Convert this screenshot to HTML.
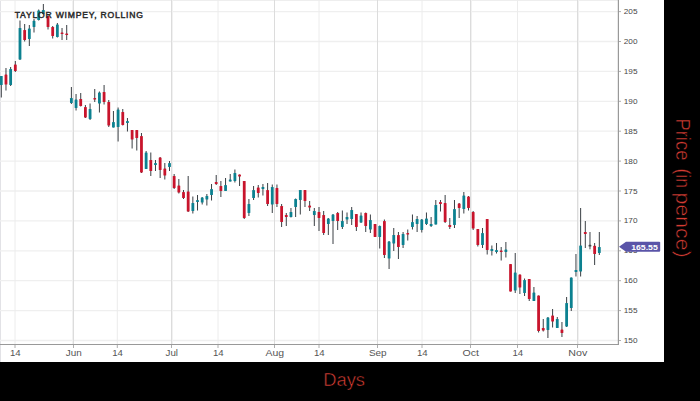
<!DOCTYPE html>
<html><head><meta charset="utf-8"><style>
html,body{margin:0;padding:0;background:#000;}
body{width:700px;height:401px;overflow:hidden;position:relative;}
svg{position:absolute;left:0;top:0;display:block;}
.yl{font-family:"Liberation Sans",sans-serif;font-size:7.5px;fill:#484848;}
.xl{font-family:"Liberation Sans",sans-serif;font-size:8.6px;fill:#555;}
.ttl{font-family:"Liberation Sans",sans-serif;font-size:8.6px;font-weight:normal;fill:#2a2a2a;stroke:#2a2a2a;stroke-width:0.45px;}
.plab{font-family:"Liberation Sans",sans-serif;font-size:6.8px;font-weight:bold;fill:#fff;}
.axt{font-family:"Liberation Sans",sans-serif;fill:#d63c33;stroke:#000;stroke-width:0.5px;}
</style></head><body>
<svg width="700" height="401" viewBox="0 0 700 401">
<rect x="0" y="0" width="700" height="401" fill="#000"/>
<rect x="0" y="0" width="664" height="362" fill="#fff"/>
<line x1="0.5" y1="0" x2="0.5" y2="362" stroke="#e2e2e6" stroke-width="1"/>
<line x1="0" y1="0.5" x2="618" y2="0.5" stroke="#eeeeee" stroke-width="1"/>
<line x1="0" y1="340.50" x2="618" y2="340.50" stroke="#efefef" stroke-width="1.3"/><line x1="0" y1="310.60" x2="618" y2="310.60" stroke="#efefef" stroke-width="1.3"/><line x1="0" y1="280.70" x2="618" y2="280.70" stroke="#efefef" stroke-width="1.3"/><line x1="0" y1="250.80" x2="618" y2="250.80" stroke="#efefef" stroke-width="1.3"/><line x1="0" y1="220.90" x2="618" y2="220.90" stroke="#efefef" stroke-width="1.3"/><line x1="0" y1="191.00" x2="618" y2="191.00" stroke="#efefef" stroke-width="1.3"/><line x1="0" y1="161.10" x2="618" y2="161.10" stroke="#efefef" stroke-width="1.3"/><line x1="0" y1="131.20" x2="618" y2="131.20" stroke="#efefef" stroke-width="1.3"/><line x1="0" y1="101.30" x2="618" y2="101.30" stroke="#efefef" stroke-width="1.3"/><line x1="0" y1="71.40" x2="618" y2="71.40" stroke="#efefef" stroke-width="1.3"/><line x1="0" y1="41.50" x2="618" y2="41.50" stroke="#efefef" stroke-width="1.3"/><line x1="0" y1="11.60" x2="618" y2="11.60" stroke="#efefef" stroke-width="1.3"/>
<line x1="15" y1="0" x2="15" y2="344" stroke="#ececec" stroke-width="1"/><line x1="73.5" y1="0" x2="73.5" y2="344" stroke="#dcdcdc" stroke-width="1"/><line x1="72.5" y1="0" x2="72.5" y2="344" stroke="#f1f1f1" stroke-width="1"/><line x1="117.3" y1="0" x2="117.3" y2="344" stroke="#ececec" stroke-width="1"/><line x1="171.5" y1="0" x2="171.5" y2="344" stroke="#dcdcdc" stroke-width="1"/><line x1="172.5" y1="0" x2="172.5" y2="344" stroke="#f1f1f1" stroke-width="1"/><line x1="218" y1="0" x2="218" y2="344" stroke="#ececec" stroke-width="1"/><line x1="274.5" y1="0" x2="274.5" y2="344" stroke="#dcdcdc" stroke-width="1"/><line x1="319" y1="0" x2="319" y2="344" stroke="#ececec" stroke-width="1"/><line x1="377.5" y1="0" x2="377.5" y2="344" stroke="#dcdcdc" stroke-width="1"/><line x1="422" y1="0" x2="422" y2="344" stroke="#ececec" stroke-width="1"/><line x1="470.5" y1="0" x2="470.5" y2="344" stroke="#dcdcdc" stroke-width="1"/><line x1="471.5" y1="0" x2="471.5" y2="344" stroke="#f1f1f1" stroke-width="1"/><line x1="517.5" y1="0" x2="517.5" y2="344" stroke="#ececec" stroke-width="1"/><line x1="577.5" y1="0" x2="577.5" y2="344" stroke="#dcdcdc" stroke-width="1"/><line x1="578.5" y1="0" x2="578.5" y2="344" stroke="#f1f1f1" stroke-width="1"/>
<line x1="361" y1="0" x2="0" y2="0" stroke="none"/><line x1="0" y1="344.5" x2="619" y2="344.5" stroke="#999" stroke-width="1.2"/>
<line x1="618.4" y1="0" x2="618.4" y2="345" stroke="#999" stroke-width="1.2"/>
<line x1="15" y1="344.5" x2="15" y2="348" stroke="#999" stroke-width="0.8"/><line x1="73.5" y1="344.5" x2="73.5" y2="348" stroke="#999" stroke-width="0.8"/><line x1="117.3" y1="344.5" x2="117.3" y2="348" stroke="#999" stroke-width="0.8"/><line x1="171.5" y1="344.5" x2="171.5" y2="348" stroke="#999" stroke-width="0.8"/><line x1="218" y1="344.5" x2="218" y2="348" stroke="#999" stroke-width="0.8"/><line x1="274.5" y1="344.5" x2="274.5" y2="348" stroke="#999" stroke-width="0.8"/><line x1="319" y1="344.5" x2="319" y2="348" stroke="#999" stroke-width="0.8"/><line x1="377.5" y1="344.5" x2="377.5" y2="348" stroke="#999" stroke-width="0.8"/><line x1="422" y1="344.5" x2="422" y2="348" stroke="#999" stroke-width="0.8"/><line x1="470.5" y1="344.5" x2="470.5" y2="348" stroke="#999" stroke-width="0.8"/><line x1="517.5" y1="344.5" x2="517.5" y2="348" stroke="#999" stroke-width="0.8"/><line x1="577.5" y1="344.5" x2="577.5" y2="348" stroke="#999" stroke-width="0.8"/>
<line x1="618.5" y1="340.50" x2="621" y2="340.50" stroke="#999" stroke-width="0.8"/><line x1="618.5" y1="310.60" x2="621" y2="310.60" stroke="#999" stroke-width="0.8"/><line x1="618.5" y1="280.70" x2="621" y2="280.70" stroke="#999" stroke-width="0.8"/><line x1="618.5" y1="250.80" x2="621" y2="250.80" stroke="#999" stroke-width="0.8"/><line x1="618.5" y1="220.90" x2="621" y2="220.90" stroke="#999" stroke-width="0.8"/><line x1="618.5" y1="191.00" x2="621" y2="191.00" stroke="#999" stroke-width="0.8"/><line x1="618.5" y1="161.10" x2="621" y2="161.10" stroke="#999" stroke-width="0.8"/><line x1="618.5" y1="131.20" x2="621" y2="131.20" stroke="#999" stroke-width="0.8"/><line x1="618.5" y1="101.30" x2="621" y2="101.30" stroke="#999" stroke-width="0.8"/><line x1="618.5" y1="71.40" x2="621" y2="71.40" stroke="#999" stroke-width="0.8"/><line x1="618.5" y1="41.50" x2="621" y2="41.50" stroke="#999" stroke-width="0.8"/><line x1="618.5" y1="11.60" x2="621" y2="11.60" stroke="#999" stroke-width="0.8"/>
<line x1="1.30" y1="76.0" x2="1.30" y2="97.5" stroke="#3a3f44" stroke-width="1"/><rect x="-0.10" y="76.0" width="2.8" height="9.00" rx="0.6" fill="#0c8190"/><line x1="5.97" y1="68.0" x2="5.97" y2="90.5" stroke="#3a3f44" stroke-width="1"/><rect x="4.57" y="74.5" width="2.8" height="10.00" rx="0.6" fill="#c8142c"/><line x1="10.64" y1="67.0" x2="10.64" y2="86.0" stroke="#3a3f44" stroke-width="1"/><rect x="9.24" y="69.0" width="2.8" height="16.00" rx="0.6" fill="#0c8190"/><line x1="15.32" y1="61.0" x2="15.32" y2="72.0" stroke="#3a3f44" stroke-width="1"/><rect x="13.92" y="64.5" width="2.8" height="6.50" rx="0.6" fill="#c8142c"/><line x1="19.99" y1="20.5" x2="19.99" y2="60.0" stroke="#3a3f44" stroke-width="1"/><rect x="18.59" y="28.0" width="2.8" height="31.50" rx="0.6" fill="#0c8190"/><line x1="24.66" y1="24.0" x2="24.66" y2="41.5" stroke="#3a3f44" stroke-width="1"/><rect x="23.26" y="30.0" width="2.8" height="10.00" rx="0.6" fill="#c8142c"/><line x1="29.33" y1="25.0" x2="29.33" y2="46.0" stroke="#3a3f44" stroke-width="1"/><rect x="27.93" y="28.5" width="2.8" height="10.50" rx="0.6" fill="#0c8190"/><line x1="34.00" y1="19.0" x2="34.00" y2="32.5" stroke="#3a3f44" stroke-width="1"/><rect x="32.60" y="20.8" width="2.8" height="6.20" rx="0.6" fill="#0c8190"/><line x1="38.68" y1="9.5" x2="38.68" y2="20.5" stroke="#3a3f44" stroke-width="1"/><rect x="37.28" y="10.5" width="2.8" height="9.50" rx="0.6" fill="#0c8190"/><line x1="43.35" y1="4.0" x2="43.35" y2="14.5" stroke="#3a3f44" stroke-width="1"/><rect x="41.95" y="10.0" width="2.8" height="4.00" rx="0.6" fill="#0c8190"/><line x1="48.02" y1="15.0" x2="48.02" y2="29.5" stroke="#3a3f44" stroke-width="1"/><rect x="46.62" y="16.0" width="2.8" height="11.00" rx="0.6" fill="#c8142c"/><line x1="52.69" y1="26.0" x2="52.69" y2="38.5" stroke="#3a3f44" stroke-width="1"/><rect x="51.29" y="27.0" width="2.8" height="9.00" rx="0.6" fill="#c8142c"/><line x1="57.36" y1="23.0" x2="57.36" y2="37.5" stroke="#3a3f44" stroke-width="1"/><rect x="55.96" y="24.5" width="2.8" height="12.50" rx="0.6" fill="#0c8190"/><line x1="62.04" y1="28.0" x2="62.04" y2="40.0" stroke="#3a3f44" stroke-width="1"/><rect x="60.64" y="32.5" width="2.8" height="1.50" rx="0.6" fill="#c8142c"/><line x1="66.71" y1="25.0" x2="66.71" y2="40.0" stroke="#3a3f44" stroke-width="1"/><rect x="65.31" y="33.5" width="2.8" height="1.50" rx="0.6" fill="#c8142c"/><line x1="71.38" y1="87.0" x2="71.38" y2="104.0" stroke="#3a3f44" stroke-width="1"/><rect x="69.98" y="98.0" width="2.8" height="5.00" rx="0.6" fill="#0c8190"/><line x1="76.05" y1="94.0" x2="76.05" y2="110.5" stroke="#3a3f44" stroke-width="1"/><rect x="74.65" y="99.5" width="2.8" height="8.50" rx="0.6" fill="#0c8190"/><line x1="80.72" y1="93.0" x2="80.72" y2="106.5" stroke="#3a3f44" stroke-width="1"/><rect x="79.32" y="99.0" width="2.8" height="7.00" rx="0.6" fill="#c8142c"/><line x1="85.40" y1="105.0" x2="85.40" y2="118.0" stroke="#3a3f44" stroke-width="1"/><rect x="84.00" y="107.0" width="2.8" height="10.50" rx="0.6" fill="#c8142c"/><line x1="90.07" y1="103.5" x2="90.07" y2="120.0" stroke="#3a3f44" stroke-width="1"/><rect x="88.67" y="109.0" width="2.8" height="10.00" rx="0.6" fill="#0c8190"/><line x1="94.74" y1="89.0" x2="94.74" y2="102.0" stroke="#3a3f44" stroke-width="1"/><rect x="93.34" y="98.0" width="2.8" height="1.50" rx="0.6" fill="#c8142c"/><line x1="99.41" y1="91.5" x2="99.41" y2="112.5" stroke="#3a3f44" stroke-width="1"/><rect x="98.01" y="92.5" width="2.8" height="11.00" rx="0.6" fill="#0c8190"/><line x1="104.08" y1="85.0" x2="104.08" y2="104.5" stroke="#3a3f44" stroke-width="1"/><rect x="102.68" y="92.0" width="2.8" height="10.00" rx="0.6" fill="#c8142c"/><line x1="108.76" y1="100.0" x2="108.76" y2="127.0" stroke="#3a3f44" stroke-width="1"/><rect x="107.36" y="102.0" width="2.8" height="23.50" rx="0.6" fill="#c8142c"/><line x1="113.43" y1="111.0" x2="113.43" y2="127.5" stroke="#3a3f44" stroke-width="1"/><rect x="112.03" y="122.0" width="2.8" height="5.50" rx="0.6" fill="#0c8190"/><line x1="118.10" y1="107.5" x2="118.10" y2="141.5" stroke="#3a3f44" stroke-width="1"/><rect x="116.70" y="109.5" width="2.8" height="17.50" rx="0.6" fill="#0c8190"/><line x1="122.77" y1="109.0" x2="122.77" y2="125.5" stroke="#3a3f44" stroke-width="1"/><rect x="121.37" y="112.0" width="2.8" height="13.00" rx="0.6" fill="#c8142c"/><line x1="127.44" y1="118.0" x2="127.44" y2="131.5" stroke="#3a3f44" stroke-width="1"/><rect x="126.04" y="121.0" width="2.8" height="2.00" rx="0.6" fill="#0c8190"/><line x1="132.12" y1="130.0" x2="132.12" y2="148.5" stroke="#3a3f44" stroke-width="1"/><rect x="130.72" y="130.0" width="2.8" height="9.50" rx="0.6" fill="#c8142c"/><line x1="136.79" y1="130.0" x2="136.79" y2="150.5" stroke="#3a3f44" stroke-width="1"/><rect x="135.39" y="130.0" width="2.8" height="8.00" rx="0.6" fill="#c8142c"/><line x1="141.46" y1="133.0" x2="141.46" y2="173.0" stroke="#3a3f44" stroke-width="1"/><rect x="140.06" y="136.0" width="2.8" height="36.50" rx="0.6" fill="#c8142c"/><line x1="146.13" y1="151.0" x2="146.13" y2="169.0" stroke="#3a3f44" stroke-width="1"/><rect x="144.73" y="152.5" width="2.8" height="16.50" rx="0.6" fill="#0c8190"/><line x1="150.80" y1="152.5" x2="150.80" y2="176.0" stroke="#3a3f44" stroke-width="1"/><rect x="149.40" y="160.0" width="2.8" height="11.00" rx="0.6" fill="#c8142c"/><line x1="155.48" y1="160.0" x2="155.48" y2="171.0" stroke="#3a3f44" stroke-width="1"/><rect x="154.08" y="163.0" width="2.8" height="2.00" rx="0.6" fill="#0c8190"/><line x1="160.15" y1="157.0" x2="160.15" y2="178.0" stroke="#3a3f44" stroke-width="1"/><rect x="158.75" y="157.5" width="2.8" height="12.50" rx="0.6" fill="#c8142c"/><line x1="164.82" y1="163.0" x2="164.82" y2="179.5" stroke="#3a3f44" stroke-width="1"/><rect x="163.42" y="168.5" width="2.8" height="7.00" rx="0.6" fill="#c8142c"/><line x1="169.49" y1="161.0" x2="169.49" y2="171.0" stroke="#3a3f44" stroke-width="1"/><rect x="168.09" y="163.0" width="2.8" height="4.00" rx="0.6" fill="#0c8190"/><line x1="174.16" y1="174.0" x2="174.16" y2="189.0" stroke="#3a3f44" stroke-width="1"/><rect x="172.76" y="176.0" width="2.8" height="12.00" rx="0.6" fill="#c8142c"/><line x1="178.84" y1="179.0" x2="178.84" y2="193.5" stroke="#3a3f44" stroke-width="1"/><rect x="177.44" y="185.5" width="2.8" height="7.00" rx="0.6" fill="#c8142c"/><line x1="183.51" y1="190.0" x2="183.51" y2="199.0" stroke="#3a3f44" stroke-width="1"/><rect x="182.11" y="192.0" width="2.8" height="6.00" rx="0.6" fill="#c8142c"/><line x1="188.18" y1="176.0" x2="188.18" y2="212.0" stroke="#3a3f44" stroke-width="1"/><rect x="186.78" y="191.5" width="2.8" height="20.00" rx="0.6" fill="#c8142c"/><line x1="192.85" y1="196.5" x2="192.85" y2="213.5" stroke="#3a3f44" stroke-width="1"/><rect x="191.45" y="203.0" width="2.8" height="8.00" rx="0.6" fill="#0c8190"/><line x1="197.52" y1="195.0" x2="197.52" y2="210.5" stroke="#3a3f44" stroke-width="1"/><rect x="196.12" y="200.0" width="2.8" height="2.00" rx="0.6" fill="#0c8190"/><line x1="202.20" y1="197.0" x2="202.20" y2="204.5" stroke="#3a3f44" stroke-width="1"/><rect x="200.80" y="197.5" width="2.8" height="5.00" rx="0.6" fill="#0c8190"/><line x1="206.87" y1="194.0" x2="206.87" y2="205.5" stroke="#3a3f44" stroke-width="1"/><rect x="205.47" y="196.0" width="2.8" height="3.50" rx="0.6" fill="#0c8190"/><line x1="211.54" y1="184.0" x2="211.54" y2="200.5" stroke="#3a3f44" stroke-width="1"/><rect x="210.14" y="189.0" width="2.8" height="6.00" rx="0.6" fill="#0c8190"/><line x1="216.21" y1="175.0" x2="216.21" y2="185.0" stroke="#3a3f44" stroke-width="1"/><rect x="214.81" y="182.0" width="2.8" height="2.00" rx="0.6" fill="#c8142c"/><line x1="220.88" y1="181.0" x2="220.88" y2="197.0" stroke="#3a3f44" stroke-width="1"/><rect x="219.48" y="186.0" width="2.8" height="5.00" rx="0.6" fill="#c8142c"/><line x1="225.56" y1="178.0" x2="225.56" y2="191.0" stroke="#3a3f44" stroke-width="1"/><rect x="224.16" y="185.0" width="2.8" height="6.00" rx="0.6" fill="#0c8190"/><line x1="230.23" y1="174.0" x2="230.23" y2="181.5" stroke="#3a3f44" stroke-width="1"/><rect x="228.83" y="179.5" width="2.8" height="2.00" rx="0.6" fill="#0c8190"/><line x1="234.90" y1="169.5" x2="234.90" y2="182.5" stroke="#3a3f44" stroke-width="1"/><rect x="233.50" y="173.0" width="2.8" height="8.00" rx="0.6" fill="#0c8190"/><line x1="239.57" y1="174.5" x2="239.57" y2="186.0" stroke="#3a3f44" stroke-width="1"/><rect x="238.17" y="174.5" width="2.8" height="2.00" rx="0.6" fill="#c8142c"/><line x1="244.24" y1="181.0" x2="244.24" y2="219.0" stroke="#3a3f44" stroke-width="1"/><rect x="242.84" y="181.0" width="2.8" height="37.00" rx="0.6" fill="#c8142c"/><line x1="248.92" y1="199.0" x2="248.92" y2="216.0" stroke="#3a3f44" stroke-width="1"/><rect x="247.52" y="204.0" width="2.8" height="9.00" rx="0.6" fill="#0c8190"/><line x1="253.59" y1="186.0" x2="253.59" y2="200.0" stroke="#3a3f44" stroke-width="1"/><rect x="252.19" y="190.0" width="2.8" height="8.00" rx="0.6" fill="#0c8190"/><line x1="258.26" y1="185.0" x2="258.26" y2="197.5" stroke="#3a3f44" stroke-width="1"/><rect x="256.86" y="187.5" width="2.8" height="5.50" rx="0.6" fill="#c8142c"/><line x1="262.93" y1="184.0" x2="262.93" y2="195.5" stroke="#3a3f44" stroke-width="1"/><rect x="261.53" y="187.0" width="2.8" height="2.00" rx="0.6" fill="#0c8190"/><line x1="267.60" y1="183.0" x2="267.60" y2="206.0" stroke="#3a3f44" stroke-width="1"/><rect x="266.20" y="190.0" width="2.8" height="14.00" rx="0.6" fill="#c8142c"/><line x1="272.28" y1="184.5" x2="272.28" y2="213.0" stroke="#3a3f44" stroke-width="1"/><rect x="270.88" y="187.0" width="2.8" height="17.50" rx="0.6" fill="#0c8190"/><line x1="276.95" y1="184.5" x2="276.95" y2="207.0" stroke="#3a3f44" stroke-width="1"/><rect x="275.55" y="188.0" width="2.8" height="16.00" rx="0.6" fill="#c8142c"/><line x1="281.62" y1="204.0" x2="281.62" y2="227.0" stroke="#3a3f44" stroke-width="1"/><rect x="280.22" y="206.0" width="2.8" height="16.00" rx="0.6" fill="#c8142c"/><line x1="286.29" y1="213.0" x2="286.29" y2="226.0" stroke="#3a3f44" stroke-width="1"/><rect x="284.89" y="215.0" width="2.8" height="2.00" rx="0.6" fill="#c8142c"/><line x1="290.96" y1="208.0" x2="290.96" y2="217.5" stroke="#3a3f44" stroke-width="1"/><rect x="289.56" y="212.0" width="2.8" height="5.00" rx="0.6" fill="#0c8190"/><line x1="295.64" y1="198.5" x2="295.64" y2="217.0" stroke="#3a3f44" stroke-width="1"/><rect x="294.24" y="199.0" width="2.8" height="8.00" rx="0.6" fill="#0c8190"/><line x1="300.31" y1="190.0" x2="300.31" y2="214.5" stroke="#3a3f44" stroke-width="1"/><rect x="298.91" y="190.0" width="2.8" height="10.00" rx="0.6" fill="#0c8190"/><line x1="304.98" y1="190.0" x2="304.98" y2="207.0" stroke="#3a3f44" stroke-width="1"/><rect x="303.58" y="190.0" width="2.8" height="11.00" rx="0.6" fill="#c8142c"/><line x1="309.65" y1="201.0" x2="309.65" y2="211.0" stroke="#3a3f44" stroke-width="1"/><rect x="308.25" y="205.5" width="2.8" height="2.00" rx="0.6" fill="#c8142c"/><line x1="314.32" y1="208.0" x2="314.32" y2="226.0" stroke="#3a3f44" stroke-width="1"/><rect x="312.92" y="211.0" width="2.8" height="4.00" rx="0.6" fill="#0c8190"/><line x1="319.00" y1="207.0" x2="319.00" y2="231.0" stroke="#3a3f44" stroke-width="1"/><rect x="317.60" y="212.0" width="2.8" height="6.00" rx="0.6" fill="#c8142c"/><line x1="323.67" y1="211.0" x2="323.67" y2="235.0" stroke="#3a3f44" stroke-width="1"/><rect x="322.27" y="215.0" width="2.8" height="18.00" rx="0.6" fill="#c8142c"/><line x1="328.34" y1="218.0" x2="328.34" y2="235.0" stroke="#3a3f44" stroke-width="1"/><rect x="326.94" y="218.5" width="2.8" height="5.50" rx="0.6" fill="#0c8190"/><line x1="333.01" y1="214.0" x2="333.01" y2="244.0" stroke="#3a3f44" stroke-width="1"/><rect x="331.61" y="214.5" width="2.8" height="6.50" rx="0.6" fill="#0c8190"/><line x1="337.68" y1="212.0" x2="337.68" y2="230.0" stroke="#3a3f44" stroke-width="1"/><rect x="336.28" y="213.0" width="2.8" height="8.00" rx="0.6" fill="#c8142c"/><line x1="342.36" y1="210.5" x2="342.36" y2="229.0" stroke="#3a3f44" stroke-width="1"/><rect x="340.96" y="221.0" width="2.8" height="6.00" rx="0.6" fill="#0c8190"/><line x1="347.03" y1="212.5" x2="347.03" y2="224.0" stroke="#3a3f44" stroke-width="1"/><rect x="345.63" y="217.0" width="2.8" height="2.50" rx="0.6" fill="#0c8190"/><line x1="351.70" y1="207.0" x2="351.70" y2="225.0" stroke="#3a3f44" stroke-width="1"/><rect x="350.30" y="210.0" width="2.8" height="9.00" rx="0.6" fill="#0c8190"/><line x1="356.37" y1="214.0" x2="356.37" y2="231.0" stroke="#3a3f44" stroke-width="1"/><rect x="354.97" y="214.0" width="2.8" height="13.00" rx="0.6" fill="#c8142c"/><line x1="361.04" y1="212.5" x2="361.04" y2="223.0" stroke="#3a3f44" stroke-width="1"/><rect x="359.64" y="215.5" width="2.8" height="7.00" rx="0.6" fill="#0c8190"/><line x1="365.72" y1="212.5" x2="365.72" y2="232.0" stroke="#3a3f44" stroke-width="1"/><rect x="364.32" y="213.0" width="2.8" height="13.00" rx="0.6" fill="#c8142c"/><line x1="370.39" y1="214.5" x2="370.39" y2="233.0" stroke="#3a3f44" stroke-width="1"/><rect x="368.99" y="220.0" width="2.8" height="9.50" rx="0.6" fill="#0c8190"/><line x1="375.06" y1="224.0" x2="375.06" y2="237.0" stroke="#3a3f44" stroke-width="1"/><rect x="373.66" y="224.0" width="2.8" height="13.00" rx="0.6" fill="#c8142c"/><line x1="379.73" y1="225.5" x2="379.73" y2="248.5" stroke="#3a3f44" stroke-width="1"/><rect x="378.33" y="226.0" width="2.8" height="11.00" rx="0.6" fill="#0c8190"/><line x1="384.40" y1="219.5" x2="384.40" y2="258.0" stroke="#3a3f44" stroke-width="1"/><rect x="383.00" y="221.0" width="2.8" height="34.00" rx="0.6" fill="#c8142c"/><line x1="389.08" y1="241.0" x2="389.08" y2="269.0" stroke="#3a3f44" stroke-width="1"/><rect x="387.68" y="241.5" width="2.8" height="17.00" rx="0.6" fill="#0c8190"/><line x1="393.75" y1="228.0" x2="393.75" y2="251.0" stroke="#3a3f44" stroke-width="1"/><rect x="392.35" y="235.0" width="2.8" height="8.50" rx="0.6" fill="#0c8190"/><line x1="398.42" y1="232.0" x2="398.42" y2="259.0" stroke="#3a3f44" stroke-width="1"/><rect x="397.02" y="235.0" width="2.8" height="12.00" rx="0.6" fill="#c8142c"/><line x1="403.09" y1="232.0" x2="403.09" y2="248.0" stroke="#3a3f44" stroke-width="1"/><rect x="401.69" y="234.0" width="2.8" height="11.00" rx="0.6" fill="#0c8190"/><line x1="407.76" y1="229.5" x2="407.76" y2="240.5" stroke="#3a3f44" stroke-width="1"/><rect x="406.36" y="233.0" width="2.8" height="1.50" rx="0.6" fill="#c8142c"/><line x1="412.44" y1="214.5" x2="412.44" y2="229.5" stroke="#3a3f44" stroke-width="1"/><rect x="411.04" y="222.0" width="2.8" height="5.00" rx="0.6" fill="#0c8190"/><line x1="417.11" y1="216.0" x2="417.11" y2="232.0" stroke="#3a3f44" stroke-width="1"/><rect x="415.71" y="219.0" width="2.8" height="5.00" rx="0.6" fill="#0c8190"/><line x1="421.78" y1="219.0" x2="421.78" y2="232.5" stroke="#3a3f44" stroke-width="1"/><rect x="420.38" y="219.5" width="2.8" height="10.50" rx="0.6" fill="#0c8190"/><line x1="426.45" y1="212.5" x2="426.45" y2="225.0" stroke="#3a3f44" stroke-width="1"/><rect x="425.05" y="218.5" width="2.8" height="5.50" rx="0.6" fill="#0c8190"/><line x1="431.12" y1="217.0" x2="431.12" y2="227.0" stroke="#3a3f44" stroke-width="1"/><rect x="429.72" y="224.0" width="2.8" height="2.00" rx="0.6" fill="#0c8190"/><line x1="435.80" y1="200.0" x2="435.80" y2="224.5" stroke="#3a3f44" stroke-width="1"/><rect x="434.40" y="205.0" width="2.8" height="19.50" rx="0.6" fill="#0c8190"/><line x1="440.47" y1="200.0" x2="440.47" y2="211.5" stroke="#3a3f44" stroke-width="1"/><rect x="439.07" y="202.0" width="2.8" height="2.00" rx="0.6" fill="#c8142c"/><line x1="445.14" y1="195.0" x2="445.14" y2="223.0" stroke="#3a3f44" stroke-width="1"/><rect x="443.74" y="203.0" width="2.8" height="19.00" rx="0.6" fill="#c8142c"/><line x1="449.81" y1="218.0" x2="449.81" y2="229.0" stroke="#3a3f44" stroke-width="1"/><rect x="448.41" y="225.0" width="2.8" height="2.00" rx="0.6" fill="#c8142c"/><line x1="454.48" y1="200.0" x2="454.48" y2="228.0" stroke="#3a3f44" stroke-width="1"/><rect x="453.08" y="209.0" width="2.8" height="16.00" rx="0.6" fill="#0c8190"/><line x1="459.16" y1="203.0" x2="459.16" y2="218.0" stroke="#3a3f44" stroke-width="1"/><rect x="457.76" y="203.5" width="2.8" height="4.50" rx="0.6" fill="#c8142c"/><line x1="463.83" y1="192.0" x2="463.83" y2="213.5" stroke="#3a3f44" stroke-width="1"/><rect x="462.43" y="195.5" width="2.8" height="13.50" rx="0.6" fill="#0c8190"/><line x1="468.50" y1="196.0" x2="468.50" y2="210.5" stroke="#3a3f44" stroke-width="1"/><rect x="467.10" y="196.5" width="2.8" height="11.50" rx="0.6" fill="#c8142c"/><line x1="473.17" y1="211.0" x2="473.17" y2="230.0" stroke="#3a3f44" stroke-width="1"/><rect x="471.77" y="212.0" width="2.8" height="16.50" rx="0.6" fill="#c8142c"/><line x1="477.84" y1="229.0" x2="477.84" y2="246.5" stroke="#3a3f44" stroke-width="1"/><rect x="476.44" y="229.0" width="2.8" height="16.00" rx="0.6" fill="#c8142c"/><line x1="482.52" y1="228.0" x2="482.52" y2="248.0" stroke="#3a3f44" stroke-width="1"/><rect x="481.12" y="233.0" width="2.8" height="12.00" rx="0.6" fill="#0c8190"/><line x1="487.19" y1="219.0" x2="487.19" y2="254.5" stroke="#3a3f44" stroke-width="1"/><rect x="485.79" y="219.0" width="2.8" height="31.00" rx="0.6" fill="#c8142c"/><line x1="491.86" y1="245.5" x2="491.86" y2="255.5" stroke="#3a3f44" stroke-width="1"/><rect x="490.46" y="249.0" width="2.8" height="2.00" rx="0.6" fill="#0c8190"/><line x1="496.53" y1="243.0" x2="496.53" y2="253.5" stroke="#3a3f44" stroke-width="1"/><rect x="495.13" y="250.0" width="2.8" height="2.00" rx="0.6" fill="#0c8190"/><line x1="501.20" y1="247.0" x2="501.20" y2="260.5" stroke="#3a3f44" stroke-width="1"/><rect x="499.80" y="250.5" width="2.8" height="1.50" rx="0.6" fill="#c8142c"/><line x1="505.88" y1="242.0" x2="505.88" y2="257.5" stroke="#3a3f44" stroke-width="1"/><rect x="504.48" y="249.5" width="2.8" height="2.50" rx="0.6" fill="#0c8190"/><line x1="510.55" y1="264.0" x2="510.55" y2="291.5" stroke="#3a3f44" stroke-width="1"/><rect x="509.15" y="264.0" width="2.8" height="27.50" rx="0.6" fill="#c8142c"/><line x1="515.22" y1="253.0" x2="515.22" y2="293.0" stroke="#3a3f44" stroke-width="1"/><rect x="513.82" y="272.5" width="2.8" height="18.00" rx="0.6" fill="#0c8190"/><line x1="519.89" y1="274.5" x2="519.89" y2="294.0" stroke="#3a3f44" stroke-width="1"/><rect x="518.49" y="274.5" width="2.8" height="13.00" rx="0.6" fill="#c8142c"/><line x1="524.56" y1="278.5" x2="524.56" y2="296.0" stroke="#3a3f44" stroke-width="1"/><rect x="523.16" y="280.0" width="2.8" height="13.00" rx="0.6" fill="#0c8190"/><line x1="529.24" y1="279.0" x2="529.24" y2="301.0" stroke="#3a3f44" stroke-width="1"/><rect x="527.84" y="279.0" width="2.8" height="20.00" rx="0.6" fill="#c8142c"/><line x1="533.91" y1="287.0" x2="533.91" y2="301.0" stroke="#3a3f44" stroke-width="1"/><rect x="532.51" y="292.5" width="2.8" height="8.50" rx="0.6" fill="#0c8190"/><line x1="538.58" y1="295.5" x2="538.58" y2="332.5" stroke="#3a3f44" stroke-width="1"/><rect x="537.18" y="295.5" width="2.8" height="35.50" rx="0.6" fill="#c8142c"/><line x1="543.25" y1="319.0" x2="543.25" y2="331.5" stroke="#3a3f44" stroke-width="1"/><rect x="541.85" y="328.0" width="2.8" height="2.50" rx="0.6" fill="#c8142c"/><line x1="547.92" y1="317.0" x2="547.92" y2="338.0" stroke="#3a3f44" stroke-width="1"/><rect x="546.52" y="317.5" width="2.8" height="12.50" rx="0.6" fill="#0c8190"/><line x1="552.60" y1="309.0" x2="552.60" y2="327.5" stroke="#3a3f44" stroke-width="1"/><rect x="551.20" y="315.5" width="2.8" height="6.00" rx="0.6" fill="#c8142c"/><line x1="557.27" y1="317.0" x2="557.27" y2="328.0" stroke="#3a3f44" stroke-width="1"/><rect x="555.87" y="319.0" width="2.8" height="9.00" rx="0.6" fill="#0c8190"/><line x1="561.94" y1="322.0" x2="561.94" y2="337.0" stroke="#3a3f44" stroke-width="1"/><rect x="560.54" y="329.5" width="2.8" height="3.50" rx="0.6" fill="#c8142c"/><line x1="566.61" y1="297.0" x2="566.61" y2="327.0" stroke="#3a3f44" stroke-width="1"/><rect x="565.21" y="303.0" width="2.8" height="23.50" rx="0.6" fill="#0c8190"/><line x1="571.28" y1="277.5" x2="571.28" y2="311.0" stroke="#3a3f44" stroke-width="1"/><rect x="569.88" y="277.5" width="2.8" height="30.50" rx="0.6" fill="#0c8190"/><line x1="575.96" y1="254.0" x2="575.96" y2="276.5" stroke="#3a3f44" stroke-width="1"/><rect x="574.56" y="270.0" width="2.8" height="2.00" rx="0.6" fill="#0c8190"/><line x1="580.63" y1="208.0" x2="580.63" y2="276.5" stroke="#3a3f44" stroke-width="1"/><rect x="579.23" y="245.5" width="2.8" height="26.00" rx="0.6" fill="#0c8190"/><line x1="585.30" y1="221.0" x2="585.30" y2="248.0" stroke="#3a3f44" stroke-width="1"/><rect x="583.90" y="232.0" width="2.8" height="2.00" rx="0.6" fill="#c8142c"/><line x1="589.97" y1="232.0" x2="589.97" y2="249.3" stroke="#3a3f44" stroke-width="1"/><rect x="588.57" y="244.8" width="2.8" height="1.70" rx="0.6" fill="#44484c"/><line x1="594.64" y1="243.0" x2="594.64" y2="265.0" stroke="#3a3f44" stroke-width="1"/><rect x="593.24" y="245.8" width="2.8" height="8.20" rx="0.6" fill="#c8142c"/><line x1="599.32" y1="232.0" x2="599.32" y2="255.0" stroke="#3a3f44" stroke-width="1"/><rect x="597.92" y="247.0" width="2.8" height="6.00" rx="0.6" fill="#0c8190"/>
<text x="14.7" y="17.6" class="ttl" textLength="128.2" lengthAdjust="spacing">TAYLOR WIMPEY, ROLLING</text>
<text x="623.8" y="343.00" class="yl" textLength="13.7" lengthAdjust="spacingAndGlyphs">150</text><text x="623.8" y="313.10" class="yl" textLength="13.7" lengthAdjust="spacingAndGlyphs">155</text><text x="623.8" y="283.20" class="yl" textLength="13.7" lengthAdjust="spacingAndGlyphs">160</text><text x="623.8" y="253.30" class="yl" textLength="13.7" lengthAdjust="spacingAndGlyphs">165</text><text x="623.8" y="223.40" class="yl" textLength="13.7" lengthAdjust="spacingAndGlyphs">170</text><text x="623.8" y="193.50" class="yl" textLength="13.7" lengthAdjust="spacingAndGlyphs">175</text><text x="623.8" y="163.60" class="yl" textLength="13.7" lengthAdjust="spacingAndGlyphs">180</text><text x="623.8" y="133.70" class="yl" textLength="13.7" lengthAdjust="spacingAndGlyphs">185</text><text x="623.8" y="103.80" class="yl" textLength="13.7" lengthAdjust="spacingAndGlyphs">190</text><text x="623.8" y="73.90" class="yl" textLength="13.7" lengthAdjust="spacingAndGlyphs">195</text><text x="623.8" y="44.00" class="yl" textLength="13.7" lengthAdjust="spacingAndGlyphs">200</text><text x="623.8" y="14.10" class="yl" textLength="13.7" lengthAdjust="spacingAndGlyphs">205</text>
<text x="9.95" y="355.8" class="xl" textLength="10.7" lengthAdjust="spacingAndGlyphs">14</text><text x="65.80" y="355.8" class="xl" textLength="16.0" lengthAdjust="spacingAndGlyphs">Jun</text><text x="112.25" y="355.8" class="xl" textLength="10.7" lengthAdjust="spacingAndGlyphs">14</text><text x="165.55" y="355.8" class="xl" textLength="12.5" lengthAdjust="spacingAndGlyphs">Jul</text><text x="212.95" y="355.8" class="xl" textLength="10.7" lengthAdjust="spacingAndGlyphs">14</text><text x="265.50" y="355.8" class="xl" textLength="18.6" lengthAdjust="spacingAndGlyphs">Aug</text><text x="313.95" y="355.8" class="xl" textLength="10.7" lengthAdjust="spacingAndGlyphs">14</text><text x="368.95" y="355.8" class="xl" textLength="17.7" lengthAdjust="spacingAndGlyphs">Sep</text><text x="416.95" y="355.8" class="xl" textLength="10.7" lengthAdjust="spacingAndGlyphs">14</text><text x="462.55" y="355.8" class="xl" textLength="16.5" lengthAdjust="spacingAndGlyphs">Oct</text><text x="512.45" y="355.8" class="xl" textLength="10.7" lengthAdjust="spacingAndGlyphs">14</text><text x="568.30" y="355.8" class="xl" textLength="19.0" lengthAdjust="spacingAndGlyphs">Nov</text>
<path d="M619,246.7 L626,241.7 L659.2,241.7 Q660.2,241.7 660.2,242.7 L660.2,250.7 Q660.2,251.7 659.2,251.7 L626,251.7 Z" fill="#5a54a8"/>
<text x="631.2" y="249.7" class="plab" textLength="26.6" lengthAdjust="spacingAndGlyphs">165.55</text>
<text x="323.2" y="386" class="axt" font-size="18" textLength="41.8" lengthAdjust="spacingAndGlyphs">Days</text>
<g class="axt" font-size="19.5"><text transform="translate(676,118.4) rotate(90)" x="0" y="0" textLength="42" lengthAdjust="spacingAndGlyphs">Price</text><text transform="translate(676,168.5) rotate(90)" x="0" y="0" textLength="19.5" lengthAdjust="spacingAndGlyphs">(in</text><text transform="translate(676,192.6) rotate(90)" x="0" y="0" textLength="65" lengthAdjust="spacingAndGlyphs">pence)</text></g>
</svg>
</body></html>
